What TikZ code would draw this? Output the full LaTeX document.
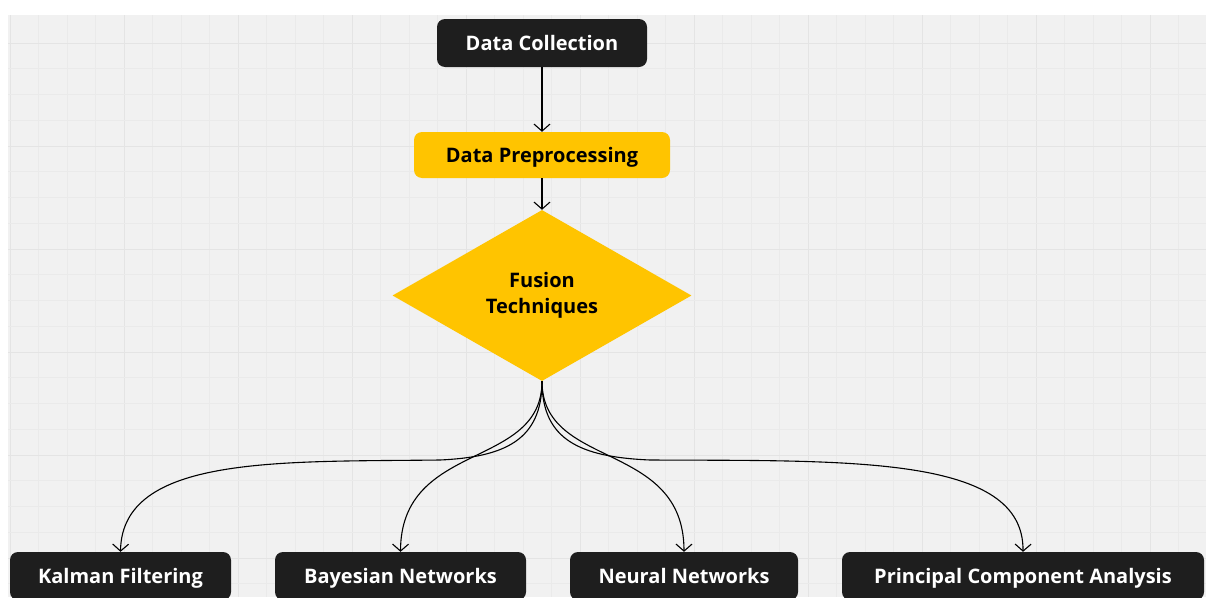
\documentclass[tikz,border=0pt]{standalone}
\usepackage{fontspec}
\setmainfont{Open Sans}
\usetikzlibrary{shapes.geometric,arrows.meta}
\definecolor{inkbox}{HTML}{1E1E1E}
\definecolor{amber}{HTML}{FFC400}
\definecolor{paper}{HTML}{F1F1F1}
\definecolor{gridminor}{HTML}{EAEAEA}
\definecolor{gridmajor}{HTML}{E4E4E4}
\begin{document}
\begin{tikzpicture}[x=1pt,y=-1pt,
  label font/.style={font=\bfseries\fontsize{20}{26}\selectfont},
  darkbox/.style={label font, fill=inkbox, text=white, rounded corners=8pt,
    minimum height=48pt, inner sep=0pt, text height=16.5pt, text depth=2.5pt},
  amberbox/.style={label font, fill=amber, text=black, rounded corners=8pt,
    minimum height=46pt, inner sep=0pt, text height=16.5pt, text depth=2.5pt},
  decision/.style={label font, shape=diamond, fill=amber, text=black,
    aspect=1.75, minimum width=299pt, minimum height=171pt, inner sep=0pt,
    align=center},
  flow/.style={draw=black, line width=1.1pt,
    -{Straight Barb[length=7pt,width=16pt,line width=1.1pt]}}
]
\useasboundingbox (0,0) rectangle (1206,597);
\clip (0,0) rectangle (1206,597);
\fill[white] (0,0) rectangle (1206,597);
\fill[paper] (8,15) rectangle (1206,597);
% background grid: a heavier line every fourth cell
\foreach \i in {0,...,41} {
  \pgfmathtruncatemacro\m{mod(\i,4)}
  \ifnum\m=0
    \draw[gridmajor, line width=1pt] (10+28.5*\i,15) -- (10+28.5*\i,597);
  \else
    \draw[gridminor, line width=0.6pt] (10+28.5*\i,15) -- (10+28.5*\i,597);
  \fi
}
\foreach \j in {1,...,22} {
  \pgfmathtruncatemacro\m{mod(\j,4)}
  \ifnum\m=1
    \draw[gridmajor, line width=1pt] (8,17.25+25.75*\j) -- (1206,17.25+25.75*\j);
  \else
    \draw[gridminor, line width=0.6pt] (8,17.25+25.75*\j) -- (1206,17.25+25.75*\j);
  \fi
}

% flow stages
\node[darkbox, minimum width=210pt] (col) at (542,43) {Data Collection};
\node[amberbox, minimum width=256pt] (pre) at (542,155) {Data Preprocessing};
\node[decision] (fus) at (542,295.5) {Fusion\\Techniques};

% techniques
\node[darkbox, minimum width=221pt] (kal) at (120.5,576) {Kalman Filtering};
\node[darkbox, minimum width=251pt] (bay) at (400.5,576) {Bayesian Networks};
\node[darkbox, minimum width=228pt] (neu) at (684,576) {Neural Networks};
\node[darkbox, minimum width=362pt] (pca) at (1023,576) {Principal Component Analysis};

% connectors
\draw[flow] (col.south) -- (pre.north);
\draw[flow] (pre.south) -- (fus.north);
\draw[flow] (fus.south) .. controls (542,440) and (505,457) .. (440,460)
  .. controls (280,462) and (122,455) .. (kal.north);
\draw[flow] (fus.south) .. controls (542,470) and (401,440) .. (bay.north);
\draw[flow] (fus.south) .. controls (542,470) and (684,440) .. (neu.north);
\draw[flow] (fus.south) .. controls (542,440) and (580,457) .. (650,460)
  .. controls (850,461) and (1024,455) .. (pca.north);
\end{tikzpicture}
\end{document}
